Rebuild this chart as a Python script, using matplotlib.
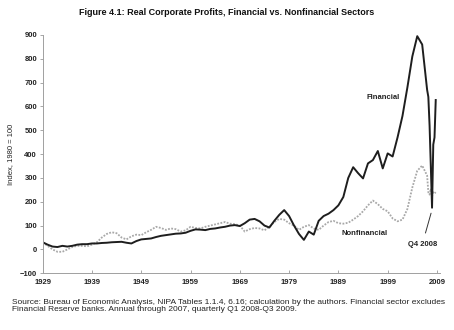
import numpy as np
import matplotlib
matplotlib.use('Agg')
import matplotlib.pyplot as plt

plt.rcParams['font.family'] = ['Liberation Sans', 'DejaVu Sans']

# annual 1929-2007, then quarterly Q1 2008 - Q3 2009
# (the quarterly points sit tightly packed right after the last annual point, as in the original chart)
years = list(range(1929, 2008))
quarters = [2007.25, 2007.5, 2007.75, 2008.0, 2008.25, 2008.5, 2008.75]

financial_annual = [
    30, 20, 12, 10, 15, 12, 15, 20, 22, 22,            # 1929-1938
    25, 25, 27, 28, 30, 31, 32, 28, 25, 35,            # 1939-1948
    42, 44, 46, 52, 57, 60, 63, 66, 67, 70,            # 1949-1958
    78, 84, 83, 81, 86, 88, 92, 95, 100, 102,          # 1959-1968
    98, 110, 125, 128, 118, 100, 92, 120, 145, 165,    # 1969-1978
    140, 100, 65, 40, 75, 62, 120, 140, 150, 165,      # 1979-1988
    185, 220, 300, 345, 320, 298, 361, 375, 413, 340,  # 1989-1998
    403, 390, 470, 560, 680, 810, 895, 860, 670,       # 1999-2007
]
financial_quarterly = [640, 520, 350, 175, 440, 470, 627]

nonfinancial_annual = [
    30, 15, 0, -10, -10, 0, 10, 15, 15, 13,            # 1929-1938
    20, 30, 50, 65, 72, 68, 50, 42, 55, 62,            # 1939-1948
    60, 72, 82, 95, 90, 82, 88, 85, 75, 80,            # 1949-1958
    95, 90, 88, 95, 100, 105, 110, 115, 108, 106,      # 1959-1968
    100, 75, 85, 90, 88, 80, 95, 115, 128, 125,        # 1969-1978
    110, 100, 82, 95, 102, 88, 82, 100, 115, 120,      # 1979-1988
    110, 108, 112, 125, 140, 160, 185, 205, 190, 170,  # 1989-1998
    160, 130, 118, 125, 170, 260, 330, 352, 310,       # 1999-2007
]
nonfinancial_quarterly = [240, 230, 255, 225, 240, 235, 240]

x = years + quarters
financial = financial_annual + financial_quarterly
nonfinancial = nonfinancial_annual + nonfinancial_quarterly

xticks = list(range(1929, 2010, 10))
yticks = list(range(-100, 1000, 100))

fig = plt.figure(figsize=(4.54, 3.30), dpi=100)
ax = fig.add_axes([0.094, 0.172, 0.875, 0.722])

ax.plot(x, nonfinancial, color='#a8a8a8', lw=1.3, linestyle=(0, (1, 0.8)))
ax.plot(x, financial, color='#1e1e1e', lw=1.4)

ax.set_xlim(1929, 2009.6)
ax.set_ylim(-100, 900)
ax.set_xticks(xticks)
ax.set_yticks(yticks)
ax.tick_params(axis='x', direction='in', length=2, width=0.6, color='#999999',
               labelsize=5.5, pad=4)
ax.tick_params(axis='y', direction='out', length=2, width=0.6, color='#999999',
               labelsize=5.5, pad=2)
for lab in ax.get_xticklabels() + ax.get_yticklabels():
    lab.set_fontweight('bold')
    lab.set_color('#222222')

for s in ['top', 'right']:
    ax.spines[s].set_visible(False)
for s in ['left', 'bottom']:
    ax.spines[s].set_color('#a0a0a0')
    ax.spines[s].set_linewidth(0.7)

ax.set_ylabel('Index, 1980 = 100', fontsize=5.5, color='#222222', labelpad=4)

ax.text(1998.0, 639, 'Financial', fontsize=5.5, fontweight='bold',
        ha='center', va='center', color='#222222')
ax.text(1994.4, 68, 'Nonfinancial', fontsize=5.5, fontweight='bold',
        ha='center', va='center', color='#222222')
ax.annotate('Q4 2008', xy=(2007.8, 152), xytext=(2006.0, 20),
            fontsize=5.5, fontweight='bold', ha='center', va='center',
            color='#222222',
            arrowprops=dict(arrowstyle='-', color='#333333', lw=0.7,
                            shrinkA=4, shrinkB=0))

fig.text(0.5, 0.963, 'Figure 4.1: Real Corporate Profits, Financial vs. Nonfinancial Sectors',
         ha='center', va='center', fontsize=6.5, fontweight='bold', color='#111111')

fig.text(0.026, 0.072,
         'Source: Bureau of Economic Analysis, NIPA Tables 1.1.4, 6.16; calculation by the authors. '
         'Financial sector excludes\nFinancial Reserve banks. Annual through 2007, quarterly Q1 2008-Q3 2009.',
         ha='left', va='center', fontsize=6.0, color='#222222', linespacing=1.1)

fig.savefig('out.png', dpi=100)
